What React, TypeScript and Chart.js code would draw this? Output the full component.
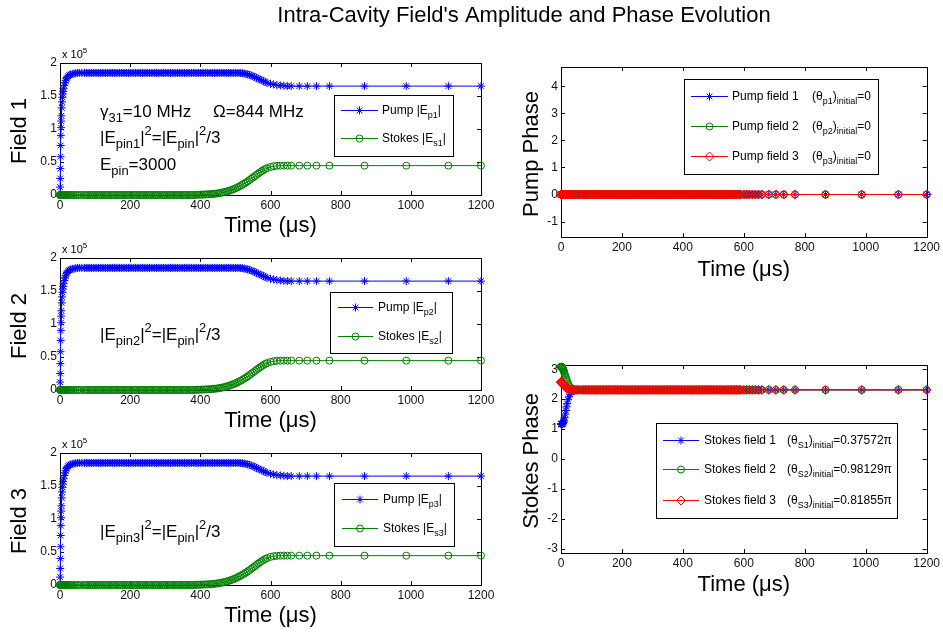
import React, { useEffect, useRef } from 'react';
import { Chart, registerables } from 'chart.js';
import { drawPoint } from 'chart.js/helpers';

Chart.register(...registerables);

const W = 943;
const H = 633;
const FONT = '"Liberation Sans", Arial, Helvetica, sans-serif';
const BLUE = '#0000ff';
const GREEN = '#008000';
const RED = '#ff0000';

// Solver time samples (µs)
const TIME_US = [
  0, 0.3, 0.6, 1, 1.5, 2, 2.5, 3, 3.5, 4,
  5, 6, 7, 8, 9, 10, 12, 14, 16, 18,
  20, 23, 26, 30, 35, 40, 45, 50, 56, 62,
  70, 75, 80, 85, 90, 95, 100, 105, 110, 115, 120, 125, 130, 135, 140,
  145, 150, 155, 160, 165, 170, 175, 180, 185, 190, 195, 200, 205, 210, 215,
  220, 225, 230, 235, 240, 245, 250, 255, 260, 265, 270, 275, 280, 285, 290,
  295, 300, 305, 310, 315, 320, 325, 330, 335, 340, 345, 350, 355, 360, 365,
  370, 375, 380, 385, 390, 395, 400, 405, 410, 415, 420, 425, 430, 435, 440,
  445, 450, 455, 460, 465, 470, 475, 480, 485, 490, 495, 500, 505, 510, 515,
  520, 525, 530, 535, 540, 545, 550, 555, 560, 565, 570, 575, 580, 585, 590,
  600, 609, 618, 628, 638, 648, 659, 682, 705, 731, 768, 868, 987, 1107, 1200,
];

// Pump amplitude |Ep| (x 10^5), identical for fields 1-3
const PUMP_AMP = [
  0, 0.12, 0.25, 0.4, 0.58, 0.75, 0.9, 1.02, 1.12, 1.2,
  1.32, 1.41, 1.48, 1.53, 1.57, 1.61, 1.66, 1.7, 1.73, 1.76,
  1.78, 1.8, 1.815, 1.825, 1.835, 1.84, 1.845, 1.85, 1.85, 1.85,
  1.85, 1.85, 1.85, 1.85, 1.85, 1.85, 1.85, 1.85, 1.85, 1.85, 1.85, 1.85, 1.85, 1.85, 1.85,
  1.85, 1.85, 1.85, 1.85, 1.85, 1.85, 1.85, 1.85, 1.85, 1.85, 1.85, 1.85, 1.85, 1.85, 1.85,
  1.85, 1.85, 1.85, 1.85, 1.85, 1.85, 1.85, 1.85, 1.85, 1.85, 1.85, 1.85, 1.85, 1.85, 1.85,
  1.85, 1.85, 1.85, 1.85, 1.85, 1.85, 1.85, 1.85, 1.85, 1.85, 1.85, 1.85, 1.85, 1.85, 1.85,
  1.85, 1.85, 1.85, 1.85, 1.85, 1.85, 1.85, 1.85, 1.85, 1.85, 1.85, 1.85, 1.85, 1.85, 1.85,
  1.85, 1.85, 1.85, 1.85, 1.85, 1.85, 1.85, 1.85, 1.85, 1.85, 1.85, 1.85, 1.85, 1.85, 1.848,
  1.845, 1.84, 1.835, 1.828, 1.82, 1.81, 1.8, 1.788, 1.775, 1.762, 1.75, 1.738, 1.725, 1.712, 1.7,
  1.685, 1.675, 1.665, 1.66, 1.655, 1.65, 1.65, 1.65, 1.65, 1.65, 1.65, 1.65, 1.65, 1.65, 1.65,
];

// Stokes amplitude |Es| (x 10^5), identical for fields 1-3
const STOKES_AMP = [
  0, 0, 0, 0, 0, 0, 0, 0, 0, 0,
  0, 0, 0, 0, 0, 0, 0, 0, 0, 0,
  0, 0, 0, 0, 0, 0, 0, 0, 0, 0,
  0, 0, 0, 0, 0, 0, 0, 0, 0, 0, 0, 0, 0, 0, 0,
  0, 0, 0, 0, 0, 0, 0, 0, 0, 0, 0, 0, 0, 0, 0,
  0, 0, 0, 0, 0, 0, 0, 0, 0, 0, 0, 0, 0, 0, 0,
  0, 0, 0, 0, 0, 0, 0, 0, 0, 0, 0, 0, 0, 0, 0,
  0, 0, 0, 0.002, 0.003, 0.004, 0.005, 0.006, 0.007, 0.008, 0.01, 0.011, 0.013, 0.015, 0.018,
  0.021, 0.025, 0.029, 0.034, 0.04, 0.046, 0.053, 0.061, 0.07, 0.079, 0.09, 0.101, 0.113, 0.127, 0.141,
  0.156, 0.172, 0.189, 0.207, 0.226, 0.245, 0.265, 0.285, 0.305, 0.325, 0.344, 0.362, 0.379, 0.394, 0.407,
  0.425, 0.436, 0.442, 0.444, 0.445, 0.445, 0.445, 0.445, 0.445, 0.445, 0.445, 0.445, 0.445, 0.445, 0.445,
];

// Pump phase (rad), all three fields stay at the initial value 0
const PUMP_PHASE = [
  0, 0, 0, 0, 0, 0, 0, 0, 0, 0,
  0, 0, 0, 0, 0, 0, 0, 0, 0, 0,
  0, 0, 0, 0, 0, 0, 0, 0, 0, 0,
  0, 0, 0, 0, 0, 0, 0, 0, 0, 0, 0, 0, 0, 0, 0,
  0, 0, 0, 0, 0, 0, 0, 0, 0, 0, 0, 0, 0, 0, 0,
  0, 0, 0, 0, 0, 0, 0, 0, 0, 0, 0, 0, 0, 0, 0,
  0, 0, 0, 0, 0, 0, 0, 0, 0, 0, 0, 0, 0, 0, 0,
  0, 0, 0, 0, 0, 0, 0, 0, 0, 0, 0, 0, 0, 0, 0,
  0, 0, 0, 0, 0, 0, 0, 0, 0, 0, 0, 0, 0, 0, 0,
  0, 0, 0, 0, 0, 0, 0, 0, 0, 0, 0, 0, 0, 0, 0,
  0, 0, 0, 0, 0, 0, 0, 0, 0, 0, 0, 0, 0, 0, 0,
];

// Stokes phases (rad)
const STOKES_PHASE_1 = [
  1.18, 1.18, 1.17, 1.17, 1.16, 1.16, 1.16, 1.16, 1.17, 1.17,
  1.18, 1.19, 1.21, 1.23, 1.26, 1.3, 1.39, 1.5, 1.62, 1.74,
  1.85, 1.98, 2.08, 2.17, 2.24, 2.28, 2.3, 2.31, 2.31, 2.31,
  2.31, 2.31, 2.31, 2.31, 2.31, 2.31, 2.31, 2.31, 2.31, 2.31, 2.31, 2.31, 2.31, 2.31, 2.31,
  2.31, 2.31, 2.31, 2.31, 2.31, 2.31, 2.31, 2.31, 2.31, 2.31, 2.31, 2.31, 2.31, 2.31, 2.31,
  2.31, 2.31, 2.31, 2.31, 2.31, 2.31, 2.31, 2.31, 2.31, 2.31, 2.31, 2.31, 2.31, 2.31, 2.31,
  2.31, 2.31, 2.31, 2.31, 2.31, 2.31, 2.31, 2.31, 2.31, 2.31, 2.31, 2.31, 2.31, 2.31, 2.31,
  2.31, 2.31, 2.31, 2.31, 2.31, 2.31, 2.31, 2.31, 2.31, 2.31, 2.31, 2.31, 2.31, 2.31, 2.31,
  2.31, 2.31, 2.31, 2.31, 2.31, 2.31, 2.31, 2.31, 2.31, 2.31, 2.31, 2.31, 2.31, 2.31, 2.31,
  2.31, 2.31, 2.31, 2.31, 2.31, 2.31, 2.31, 2.31, 2.31, 2.31, 2.31, 2.31, 2.31, 2.31, 2.31,
  2.31, 2.31, 2.31, 2.31, 2.31, 2.31, 2.31, 2.31, 2.31, 2.31, 2.31, 2.31, 2.31, 2.31, 2.31,
];
const STOKES_PHASE_2 = [
  3.08, 3.08, 3.08, 3.08, 3.08, 3.08, 3.07, 3.07, 3.06, 3.06,
  3.04, 3.02, 3.0, 2.97, 2.94, 2.91, 2.85, 2.78, 2.72, 2.66,
  2.6, 2.52, 2.46, 2.4, 2.35, 2.33, 2.32, 2.31, 2.31, 2.31,
  2.31, 2.31, 2.31, 2.31, 2.31, 2.31, 2.31, 2.31, 2.31, 2.31, 2.31, 2.31, 2.31, 2.31, 2.31,
  2.31, 2.31, 2.31, 2.31, 2.31, 2.31, 2.31, 2.31, 2.31, 2.31, 2.31, 2.31, 2.31, 2.31, 2.31,
  2.31, 2.31, 2.31, 2.31, 2.31, 2.31, 2.31, 2.31, 2.31, 2.31, 2.31, 2.31, 2.31, 2.31, 2.31,
  2.31, 2.31, 2.31, 2.31, 2.31, 2.31, 2.31, 2.31, 2.31, 2.31, 2.31, 2.31, 2.31, 2.31, 2.31,
  2.31, 2.31, 2.31, 2.31, 2.31, 2.31, 2.31, 2.31, 2.31, 2.31, 2.31, 2.31, 2.31, 2.31, 2.31,
  2.31, 2.31, 2.31, 2.31, 2.31, 2.31, 2.31, 2.31, 2.31, 2.31, 2.31, 2.31, 2.31, 2.31, 2.31,
  2.31, 2.31, 2.31, 2.31, 2.31, 2.31, 2.31, 2.31, 2.31, 2.31, 2.31, 2.31, 2.31, 2.31, 2.31,
  2.31, 2.31, 2.31, 2.31, 2.31, 2.31, 2.31, 2.31, 2.31, 2.31, 2.31, 2.31, 2.31, 2.31, 2.31,
];
const STOKES_PHASE_3 = [
  2.57, 2.57, 2.57, 2.57, 2.56, 2.56, 2.56, 2.55, 2.55, 2.54,
  2.53, 2.52, 2.5, 2.49, 2.47, 2.46, 2.43, 2.41, 2.39, 2.37,
  2.36, 2.34, 2.33, 2.32, 2.315, 2.31, 2.31, 2.31, 2.31, 2.31,
  2.31, 2.31, 2.31, 2.31, 2.31, 2.31, 2.31, 2.31, 2.31, 2.31, 2.31, 2.31, 2.31, 2.31, 2.31,
  2.31, 2.31, 2.31, 2.31, 2.31, 2.31, 2.31, 2.31, 2.31, 2.31, 2.31, 2.31, 2.31, 2.31, 2.31,
  2.31, 2.31, 2.31, 2.31, 2.31, 2.31, 2.31, 2.31, 2.31, 2.31, 2.31, 2.31, 2.31, 2.31, 2.31,
  2.31, 2.31, 2.31, 2.31, 2.31, 2.31, 2.31, 2.31, 2.31, 2.31, 2.31, 2.31, 2.31, 2.31, 2.31,
  2.31, 2.31, 2.31, 2.31, 2.31, 2.31, 2.31, 2.31, 2.31, 2.31, 2.31, 2.31, 2.31, 2.31, 2.31,
  2.31, 2.31, 2.31, 2.31, 2.31, 2.31, 2.31, 2.31, 2.31, 2.31, 2.31, 2.31, 2.31, 2.31, 2.31,
  2.31, 2.31, 2.31, 2.31, 2.31, 2.31, 2.31, 2.31, 2.31, 2.31, 2.31, 2.31, 2.31, 2.31, 2.31,
  2.31, 2.31, 2.31, 2.31, 2.31, 2.31, 2.31, 2.31, 2.31, 2.31, 2.31, 2.31, 2.31, 2.31, 2.31,
];

const FIGURE_TITLE = "Intra-Cavity Field's Amplitude and Phase Evolution";
const X_TITLE = 'Time (\u03bcs)';

// Rich text: [text, kind] where kind is n = normal, b = subscript, p = superscript
type Seg = [string, 'n' | 'b' | 'p'];

const Y_AXIS_W = 40;
const X_AXIS_H = 24;
const TICK = 4;

interface Series { values: number[]; color: string; style: string; radius: number; order: number; }
interface LegendEntry { segs: Seg[]; segs2?: Seg[]; color: string; style: string; radius: number; }
interface Note { segs: Seg[]; x: number; y: number; }
interface Panel {
  id: string;
  area: [number, number, number, number];
  yMin: number; yMax: number; yStep: number;
  series: Series[];
  yTitle: string; yTitleX: number; xTitleGap: number;
  exponent: boolean;
  notes: Note[];
  legend: { box: [number, number, number, number]; line: [number, number]; textX: number; text2X?: number; rows: number[]; entries: LegendEntry[] };
  figureTitle?: boolean;
}

function drawRich(ctx: CanvasRenderingContext2D, segs: Seg[], x: number, y: number, size: number, small = 0.72) {
  let cx = x;
  ctx.textAlign = 'left';
  ctx.textBaseline = 'alphabetic';
  for (const [t, k] of segs) {
    const s = k === 'n' ? size : size * small;
    ctx.font = `${s}px ${FONT}`;
    const dy = k === 'b' ? size * 0.32 : k === 'p' ? -size * 0.45 : 0;
    ctx.fillText(t, cx, y + dy);
    cx += ctx.measureText(t).width;
  }
  return cx - x;
}

const ampSeries: Series[] = [
  { values: PUMP_AMP, color: BLUE, style: 'star', radius: 4, order: 2 },
  { values: STOKES_AMP, color: GREEN, style: 'circle', radius: 3.5, order: 1 },
];

const ampEntries = (n: string): LegendEntry[] => [
  { segs: [['Pump |E', 'n'], ['p' + n, 'b'], ['|', 'n']], color: BLUE, style: 'star', radius: 4 },
  { segs: [['Stokes |E', 'n'], ['s' + n, 'b'], ['|', 'n']], color: GREEN, style: 'circle', radius: 3.5 },
];

const pinNote = (n: string, y: number): Note => ({
  segs: [['|E', 'n'], ['pin' + n, 'b'], ['|', 'n'], ['2', 'p'], ['=|E', 'n'], ['pin', 'b'], ['|', 'n'], ['2', 'p'], ['/3', 'n']],
  x: 100, y,
});

const PANELS: Panel[] = [
  {
    id: 'f1', area: [60, 63, 481, 195], yMin: 0, yMax: 2, yStep: 0.5, series: ampSeries,
    yTitle: 'Field 1', yTitleX: 20, xTitleGap: 37, exponent: true, figureTitle: true,
    notes: [
      { segs: [['\u03b3', 'n'], ['31', 'b'], ['=10 MHz', 'n']], x: 100, y: 117 },
      { segs: [['\u03a9=844 MHz', 'n']], x: 213, y: 117 },
      pinNote('1', 143),
      { segs: [['E', 'n'], ['pin', 'b'], ['=3000', 'n']], x: 100, y: 170 },
    ],
    legend: { box: [334, 95, 453, 156], line: [341, 378], textX: 382, rows: [110, 138], entries: ampEntries('1') },
  },
  {
    id: 'f2', area: [60, 258, 481, 390], yMin: 0, yMax: 2, yStep: 0.5, series: ampSeries,
    yTitle: 'Field 2', yTitleX: 20, xTitleGap: 37, exponent: true,
    notes: [pinNote('2', 340)],
    legend: { box: [330, 292, 452, 353], line: [338, 373], textX: 378, rows: [307, 336], entries: ampEntries('2') },
  },
  {
    id: 'f3', area: [60, 453, 481, 585], yMin: 0, yMax: 2, yStep: 0.5, series: ampSeries,
    yTitle: 'Field 3', yTitleX: 20, xTitleGap: 37, exponent: true,
    notes: [pinNote('3', 537)],
    legend: { box: [334, 483, 454, 546], line: [342, 378], textX: 383, rows: [499, 528], entries: ampEntries('3') },
  },
  {
    id: 'pp', area: [561, 67, 929, 237], yMin: -Math.PI / 2, yMax: (3 * Math.PI) / 2, yStep: 1,
    series: [
      { values: PUMP_PHASE, color: BLUE, style: 'star', radius: 4, order: 3 },
      { values: PUMP_PHASE, color: GREEN, style: 'circle', radius: 3.5, order: 2 },
      { values: PUMP_PHASE, color: RED, style: 'rectRot', radius: 4.5, order: 1 },
    ],
    yTitle: 'Pump Phase', yTitleX: 532, xTitleGap: 39, exponent: false, notes: [],
    legend: {
      box: [684, 79, 878, 174], line: [691, 728], textX: 732, text2X: 812, rows: [96, 126, 156],
      entries: [1, 2, 3].map((n, i) => ({
        segs: [['Pump field ' + n, 'n']] as Seg[],
        segs2: [['(\u03b8', 'n'], ['p' + n, 'b'], [')', 'n'], ['initial', 'b'], ['=0', 'n']] as Seg[],
        color: [BLUE, GREEN, RED][i], style: ['star', 'circle', 'rectRot'][i], radius: [4, 3.5, 4.5][i],
      })),
    },
  },
  {
    id: 'sp', area: [561, 365, 929, 553], yMin: -Math.PI, yMax: Math.PI, yStep: 1,
    series: [
      { values: STOKES_PHASE_1, color: BLUE, style: 'star', radius: 4, order: 3 },
      { values: STOKES_PHASE_2, color: GREEN, style: 'circle', radius: 3.5, order: 2 },
      { values: STOKES_PHASE_3, color: RED, style: 'rectRot', radius: 4.5, order: 1 },
    ],
    yTitle: 'Stokes Phase', yTitleX: 532, xTitleGap: 38, exponent: false, notes: [],
    legend: {
      box: [656, 423, 897, 518], line: [663, 699], textX: 704, text2X: 787, rows: [440, 469, 500],
      entries: [['1', '0.37572'], ['2', '0.98129'], ['3', '0.81855']].map(([n, v], i) => ({
        segs: [['Stokes field ' + n, 'n']] as Seg[],
        segs2: [['(\u03b8', 'n'], ['S' + n, 'b'], [')', 'n'], ['initial', 'b'], ['=' + v + '\u03c0', 'n']] as Seg[],
        color: [BLUE, GREEN, RED][i], style: ['star', 'circle', 'rectRot'][i], radius: [4, 3.5, 4.5][i],
      })),
    },
  },
];

function decorPlugin(p: Panel) {
  return {
    id: 'decor-' + p.id,
    beforeDatasetsDraw(chart: any) {
      const ctx: CanvasRenderingContext2D = chart.ctx;
      const { left, right, top, bottom } = chart.chartArea;
      const xs = chart.scales.x;
      const ys = chart.scales.y;
      ctx.save();
      ctx.strokeStyle = '#000';
      ctx.lineWidth = 1;
      ctx.strokeRect(Math.round(left) + 0.5, Math.round(top) + 0.5, Math.round(right - left), Math.round(bottom - top));
      ctx.beginPath();
      for (const t of xs.ticks) {
        const px = Math.round(xs.getPixelForValue(t.value)) + 0.5;
        ctx.moveTo(px, bottom); ctx.lineTo(px, bottom - TICK);
        ctx.moveTo(px, top); ctx.lineTo(px, top + TICK);
      }
      for (const t of ys.ticks) {
        const py = Math.round(ys.getPixelForValue(t.value)) + 0.5;
        ctx.moveTo(left, py); ctx.lineTo(left + TICK, py);
        ctx.moveTo(right, py); ctx.lineTo(right - TICK, py);
      }
      ctx.stroke();
      ctx.restore();
    },
    afterDraw(chart: any) {
      const ctx: CanvasRenderingContext2D = chart.ctx;
      const { left, right, top, bottom } = chart.chartArea;
      ctx.save();
      ctx.fillStyle = '#000';

      if (p.figureTitle) {
        ctx.font = `22px ${FONT}`;
        ctx.textAlign = 'center';
        ctx.textBaseline = 'alphabetic';
        ctx.fillText(FIGURE_TITLE, 524, 22);
      }

      // axis titles
      ctx.font = `22px ${FONT}`;
      ctx.textAlign = 'center';
      ctx.textBaseline = 'alphabetic';
      ctx.fillText(X_TITLE, (left + right) / 2, bottom + p.xTitleGap);
      ctx.save();
      ctx.translate(p.yTitleX, (top + bottom) / 2 + 2);
      ctx.rotate(-Math.PI / 2);
      ctx.textBaseline = 'middle';
      ctx.fillText(p.yTitle, 0, 0);
      ctx.restore();

      if (p.exponent) {
        drawRich(ctx, [['x 10', 'n'], ['5', 'p']], left + 2, top - 5, 11);
      }

      for (const n of p.notes) drawRich(ctx, n.segs, n.x, n.y, 17, 0.76);

      // legend
      const lg = p.legend;
      const [bx0, by0, bx1, by1] = lg.box;
      ctx.fillStyle = '#fff';
      ctx.fillRect(bx0, by0, bx1 - bx0, by1 - by0);
      ctx.strokeStyle = '#000';
      ctx.lineWidth = 1;
      ctx.strokeRect(bx0 + 0.5, by0 + 0.5, bx1 - bx0, by1 - by0);
      lg.entries.forEach((e, i) => {
        const ry = lg.rows[i];
        ctx.strokeStyle = e.color;
        ctx.lineWidth = 1;
        ctx.beginPath();
        ctx.moveTo(lg.line[0], ry + 0.5);
        ctx.lineTo(lg.line[1], ry + 0.5);
        ctx.stroke();
        ctx.fillStyle = 'rgba(0,0,0,0)';
        drawPoint(ctx, { pointStyle: e.style as any, radius: e.radius, rotation: 0, borderWidth: 1 }, (lg.line[0] + lg.line[1]) / 2, ry + 0.5);
        ctx.fillStyle = '#000';
        drawRich(ctx, e.segs, lg.textX, ry + 4, 12, 0.75);
        if (e.segs2 && lg.text2X) drawRich(ctx, e.segs2, lg.text2X, ry + 4, 12, 0.75);
      });
      ctx.restore();
    },
  };
}

function makeConfig(p: Panel): any {
  const [l, t, r, b] = p.area;
  const tickFont = { family: FONT, size: 12 };
  return {
    type: 'line',
    data: {
      datasets: p.series.map((s) => ({
        data: TIME_US.map((x, i) => ({ x, y: s.values[i] })),
        borderColor: s.color,
        borderWidth: 1,
        pointStyle: s.style,
        pointRadius: s.radius,
        pointBorderColor: s.color,
        pointBackgroundColor: 'rgba(0,0,0,0)',
        pointBorderWidth: 1,
        tension: 0,
        fill: false,
        clip: false,
        order: s.order,
      })),
    },
    options: {
      responsive: false,
      animation: false,
      events: [],
      layout: { padding: { left: l - Y_AXIS_W, top: t, right: W - r, bottom: H - b - X_AXIS_H } },
      plugins: { legend: { display: false }, tooltip: { enabled: false }, title: { display: false } },
      scales: {
        x: {
          type: 'linear', min: 0, max: 1200,
          ticks: { stepSize: 200, autoSkip: false, maxRotation: 0, font: tickFont, color: '#111', padding: 3, callback: (v: number) => String(v) },
          grid: { display: false, drawTicks: false },
          border: { display: false },
          afterFit: (s: any) => { s.height = X_AXIS_H; },
        },
        y: {
          type: 'linear', min: p.yMin, max: p.yMax,
          ticks: { stepSize: p.yStep, includeBounds: false, autoSkip: false, font: tickFont, color: '#111', padding: 3, callback: (v: number) => String(v) },
          grid: { display: false, drawTicks: false },
          border: { display: false },
          afterFit: (s: any) => { s.width = Y_AXIS_W; },
        },
      },
    },
    plugins: [decorPlugin(p)],
  };
}

function PanelCanvas({ panel }: { panel: Panel }) {
  const ref = useRef<HTMLCanvasElement | null>(null);
  useEffect(() => {
    if (!ref.current) return;
    const chart = new Chart(ref.current, makeConfig(panel));
    return () => chart.destroy();
  }, [panel]);
  return <canvas ref={ref} width={W} height={H} style={{ position: 'absolute', left: 0, top: 0 }} />;
}

export default function App() {
  return (
    <div style={{ position: 'absolute', left: 0, top: 0, width: W, height: H, background: '#fff', overflow: 'hidden' }}>
      {PANELS.map((p) => (
        <PanelCanvas key={p.id} panel={p} />
      ))}
    </div>
  );
}
